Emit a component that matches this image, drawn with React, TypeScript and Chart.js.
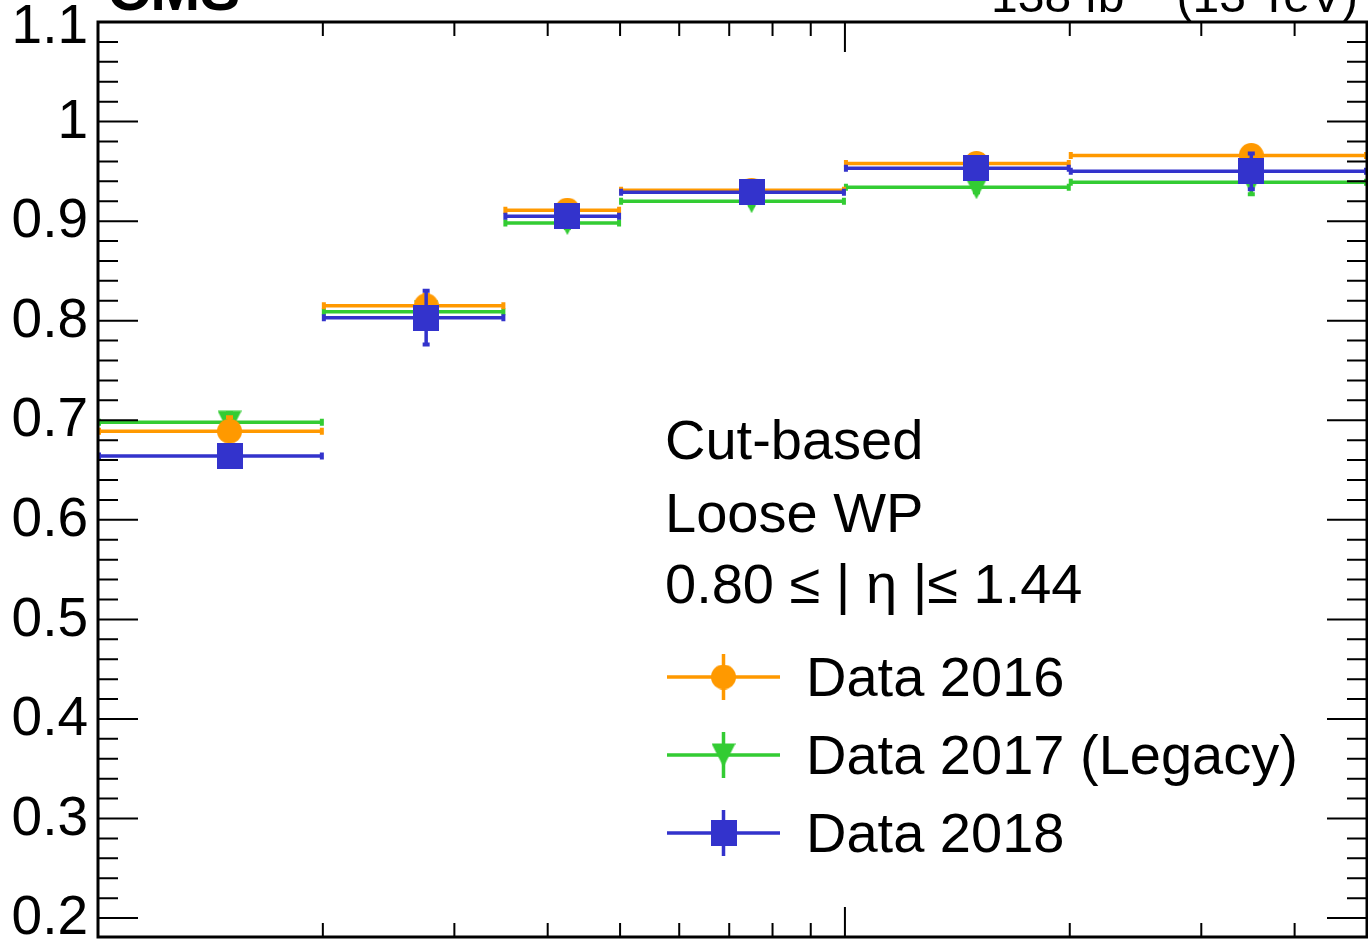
import React, { useEffect, useRef } from "react";
import { Chart, registerables } from "chart.js";

Chart.register(...registerables);

// ---- data ----
const binEdges = [10, 20, 35, 50, 100, 200, 500];
const binCenters = [15, 27.5, 42.5, 75, 150, 350];
const eff2016 = [0.689, 0.815, 0.911, 0.931, 0.958, 0.966];
const err2016 = [0.015, 0.012, 0.006, 0.005, 0.006, 0.008];
const eff2017 = [0.698, 0.809, 0.898, 0.92, 0.934, 0.939];
const err2017 = [0.01, 0.012, 0.006, 0.005, 0.006, 0.013];
const eff2018 = [0.664, 0.803, 0.905, 0.929, 0.953, 0.95];
const err2018 = [0.012, 0.028, 0.007, 0.006, 0.008, 0.019];
const seriesLabels = ["Data 2016", "Data 2017 (Legacy)", "Data 2018"];
const seriesColors = ["#FF9900", "#33CC33", "#3333CC"];
const yMajorTicks = [0.2, 0.3, 0.4, 0.5, 0.6, 0.7, 0.8, 0.9, 1.0, 1.1];
const yTickLabels = ["0.2", "0.3", "0.4", "0.5", "0.6", "0.7", "0.8", "0.9", "1", "1.1"];
const xMajorTicks = [100];
const xMinorTicks = [20, 30, 40, 50, 60, 70, 80, 90, 200, 300, 400];
const infoLines = ["Cut-based", "Loose WP", "0.80 \u2264 | \u03b7 |\u2264 1.44"];
const xMin = 10;
const xMax = 500;
const yMin = 0.181;
const yMax = 1.1;

const FONT = "'Liberation Sans', Arial, Helvetica, sans-serif";

type Marker = "circle" | "triDown" | "square";
const markers: Marker[] = ["circle", "triDown", "square"];

function makeMarker(kind: Marker, color: string): HTMLCanvasElement {
  const c = document.createElement("canvas");
  const size = kind === "square" ? 26 : kind === "circle" ? 25 : 24;
  c.width = size;
  c.height = size;
  const g = c.getContext("2d")!;
  g.fillStyle = color;
  if (kind === "circle") {
    g.beginPath();
    g.arc(size / 2, size / 2, size / 2, 0, Math.PI * 2);
    g.fill();
  } else if (kind === "square") {
    g.fillRect(0, 0, size, size);
  } else {
    g.beginPath();
    g.moveTo(0, 0.5);
    g.lineTo(size, 0.5);
    g.lineTo(size / 2, size);
    g.closePath();
    g.fill();
  }
  return c;
}

export default function App() {
  const ref = useRef<HTMLCanvasElement | null>(null);

  useEffect(() => {
    document.body.style.margin = "0";
    const canvas = ref.current;
    if (!canvas) return;

    const series = [
      { label: seriesLabels[0], eff: eff2016, err: err2016, color: seriesColors[0], marker: markers[0] },
      { label: seriesLabels[1], eff: eff2017, err: err2017, color: seriesColors[1], marker: markers[1] },
      { label: seriesLabels[2], eff: eff2018, err: err2018, color: seriesColors[2], marker: markers[2] },
    ];
    const markerImgs = series.map((s) => makeMarker(s.marker, s.color));
    const drawOrder = [1, 2, 0];

    const errorBarPlugin = {
      id: "errorBars",
      beforeDatasetDraw(chart: any, args: any) {
        const s = series[args.index];
        const xs = chart.scales.x;
        const ys = chart.scales.y;
        const ctx = chart.ctx as CanvasRenderingContext2D;
        ctx.save();
        ctx.strokeStyle = s.color;
        ctx.lineCap = "butt";
        for (let j = 0; j < s.eff.length; j++) {
          const y = ys.getPixelForValue(s.eff[j]);
          const x0 = xs.getPixelForValue(binEdges[j]);
          const x1 = xs.getPixelForValue(binEdges[j + 1]);
          const xc = xs.getPixelForValue(binCenters[j]);
          const yt = ys.getPixelForValue(s.eff[j] + s.err[j]);
          const yb = ys.getPixelForValue(s.eff[j] - s.err[j]);
          ctx.lineWidth = 3.5;
          ctx.beginPath();
          ctx.moveTo(x0, y);
          ctx.lineTo(x1, y);
          ctx.moveTo(xc, yt);
          ctx.lineTo(xc, yb);
          ctx.stroke();
          ctx.lineWidth = 4;
          ctx.beginPath();
          ctx.moveTo(x0 + 1, y - 3.5);
          ctx.lineTo(x0 + 1, y + 3.5);
          ctx.moveTo(x1 - 1, y - 3.5);
          ctx.lineTo(x1 - 1, y + 3.5);
          ctx.moveTo(xc - 3.5, yt + 1);
          ctx.lineTo(xc + 3.5, yt + 1);
          ctx.moveTo(xc - 3.5, yb - 1);
          ctx.lineTo(xc + 3.5, yb - 1);
          ctx.stroke();
        }
        ctx.restore();
      },
    };

    const framePlugin = {
      id: "rootFrame",
      afterDraw(chart: any) {
        const ctx = chart.ctx as CanvasRenderingContext2D;
        const a = chart.chartArea;
        const xs = chart.scales.x;
        const ys = chart.scales.y;
        ctx.save();
        ctx.strokeStyle = "#000";
        ctx.fillStyle = "#000";

        // ticks
        ctx.lineWidth = 2;
        ctx.beginPath();
        const yTick = (v: number, len: number) => {
          const y = ys.getPixelForValue(v);
          ctx.moveTo(a.left, y);
          ctx.lineTo(a.left + len, y);
          ctx.moveTo(a.right, y);
          ctx.lineTo(a.right - len, y);
        };
        yMajorTicks.forEach((v) => yTick(v, 40));
        for (let i = 0; i < yMajorTicks.length - 1; i++) {
          for (let k = 1; k < 5; k++) {
            yTick(yMajorTicks[i] + ((yMajorTicks[i + 1] - yMajorTicks[i]) * k) / 5, 20);
          }
        }
        const xTick = (v: number, len: number) => {
          const x = xs.getPixelForValue(v);
          ctx.moveTo(x, a.bottom);
          ctx.lineTo(x, a.bottom - len);
          ctx.moveTo(x, a.top);
          ctx.lineTo(x, a.top + len);
        };
        xMajorTicks.forEach((v) => xTick(v, 30));
        xMinorTicks.forEach((v) => xTick(v, 14));
        ctx.stroke();

        // frame
        ctx.lineWidth = 3;
        ctx.strokeRect(a.left, a.top, a.right - a.left, a.bottom - a.top);

        // y labels
        ctx.font = `55px ${FONT}`;
        ctx.textAlign = "right";
        ctx.textBaseline = "middle";
        yMajorTicks.forEach((v, i) => {
          const shift = v >= yMax - 1e-9 ? 6 : 1;
          ctx.fillText(yTickLabels[i], a.left - 10, ys.getPixelForValue(v) + shift);
        });

        // header
        ctx.textBaseline = "alphabetic";
        ctx.textAlign = "left";
        ctx.font = `bold 60px ${FONT}`;
        ctx.fillText("CMS", a.left + 9, 10);

        const big = `48px ${FONT}`;
        const small = `34px ${FONT}`;
        const p1 = "138 fb";
        const p2 = "\u22121";
        const p3 = " (13 TeV)";
        ctx.font = big;
        const w1 = ctx.measureText(p1).width;
        const w3 = ctx.measureText(p3).width;
        ctx.font = small;
        const w2 = ctx.measureText(p2).width;
        const right = a.right - 9;
        let x = right - (w1 + w2 + w3);
        ctx.font = big;
        ctx.fillText(p1, x, 12);
        x += w1;
        ctx.font = small;
        ctx.fillText(p2, x, -8);
        x += w2;
        ctx.font = big;
        ctx.fillText(p3, x, 12);

        // info text
        ctx.font = `56px ${FONT}`;
        const infoBase = [459, 532, 603];
        infoLines.forEach((t, i) => ctx.fillText(t, 665, infoBase[i]));

        // legend
        const legY = [677, 755, 833];
        series.forEach((s, i) => {
          const cy = legY[i];
          ctx.strokeStyle = s.color;
          ctx.lineWidth = 3.5;
          ctx.beginPath();
          ctx.moveTo(667, cy);
          ctx.lineTo(780, cy);
          ctx.moveTo(723.5, cy - 23);
          ctx.lineTo(723.5, cy + 23);
          ctx.stroke();
          const img = markerImgs[i];
          ctx.drawImage(img, 723.5 - img.width / 2, cy - img.height / 2);
          ctx.fillStyle = "#000";
          ctx.fillText(s.label, 806, cy + 19);
        });
        ctx.restore();
      },
    };

    const chart = new Chart(canvas, {
      type: "scatter",
      data: {
        datasets: series.map((s, i) => ({
          label: s.label,
          data: binCenters.map((x, j) => ({ x, y: s.eff[j] })),
          pointStyle: markerImgs[i] as any,
          backgroundColor: s.color,
          borderColor: s.color,
          showLine: false,
          order: drawOrder[i],
        })),
      },
      options: {
        animation: false,
        responsive: false,
        devicePixelRatio: 1,
        events: [],
        layout: { padding: { left: 98, top: 22, right: 1, bottom: 4 }, autoPadding: false },
        plugins: { legend: { display: false }, tooltip: { enabled: false } },
        scales: {
          x: { type: "logarithmic", min: xMin, max: xMax, display: false },
          y: { type: "linear", min: yMin, max: yMax, display: false },
        },
      } as any,
      plugins: [errorBarPlugin, framePlugin],
    });

    return () => chart.destroy();
  }, []);

  return (
    <div style={{ width: 1368, height: 941, background: "#fff" }}>
      <canvas ref={ref} width={1368} height={941} style={{ display: "block", width: 1368, height: 941 }} />
    </div>
  );
}
